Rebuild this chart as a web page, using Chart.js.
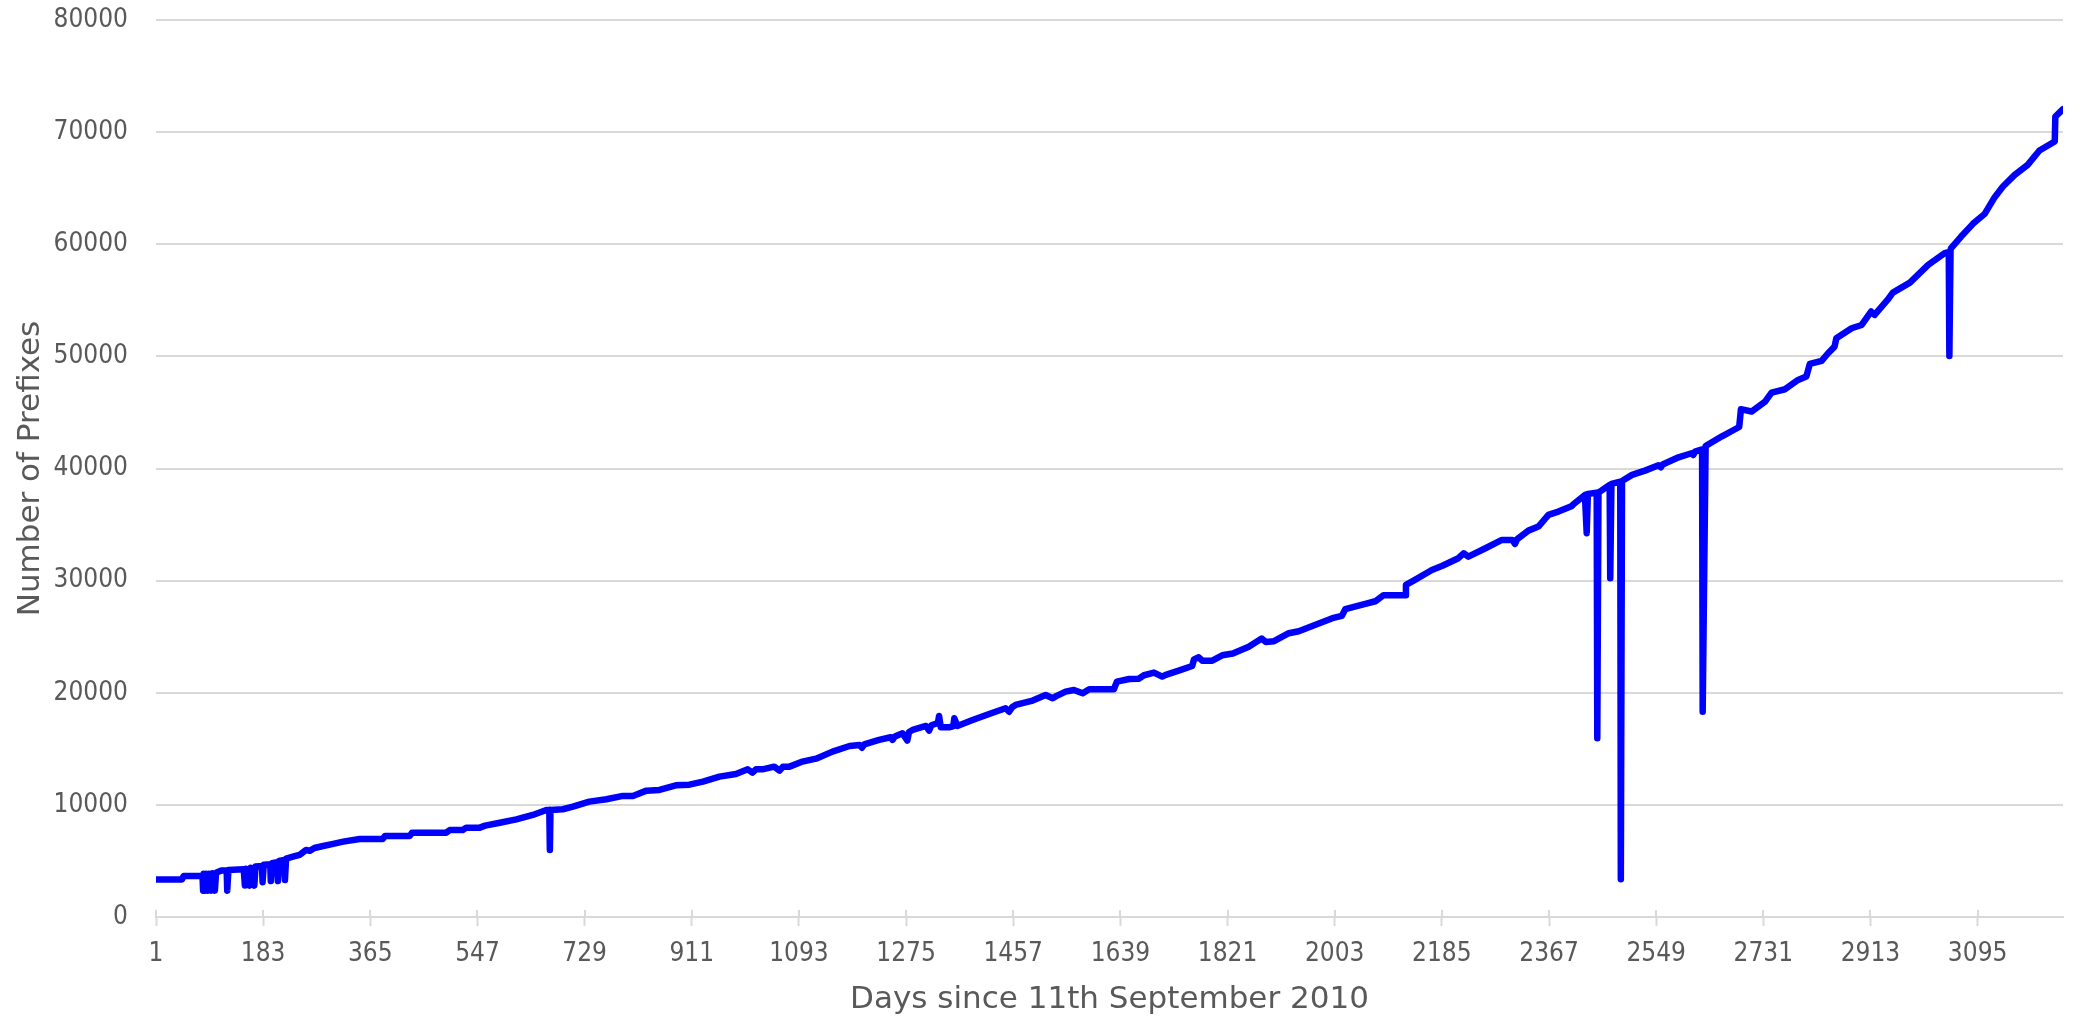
<!DOCTYPE html>
<html>
<head>
<meta charset="utf-8">
<script src="https://cdn.jsdelivr.net/npm/chart.js@4.4.0/dist/chart.umd.min.js"></script>
<style>
  html, body { margin: 0; padding: 0; background: #ffffff; }
  canvas { display: block; }
</style>
</head>
<body>
<canvas id="prefixChart" width="2078" height="1026"></canvas>
<script>
// days since 11th September 2010 (x) and number of prefixes (y)
const days = [
  1, 45, 48, 80, 81, 82, 84, 86, 89, 91, 95, 97, 101, 103, 112, 121, 122, 124,
  150, 152, 154, 160, 162, 168, 170, 181, 182, 184, 195, 196, 198, 207, 208, 210,
  219, 220, 222, 235, 245, 256, 262, 270, 285, 300, 319, 347, 386, 390, 432, 436,
  494, 500, 522, 528, 551, 560, 585, 613, 641, 664, 669, 670, 671, 692, 709, 737,
  766, 794, 811, 834, 856, 884, 907, 930, 958, 986, 1006, 1014, 1020, 1031, 1051,
  1060, 1066, 1077, 1097, 1122, 1150, 1179, 1196, 1200, 1204, 1229, 1249, 1252,
  1256, 1269, 1277, 1280, 1286, 1309, 1314, 1318, 1329, 1331, 1334, 1348, 1355,
  1357, 1362, 1388, 1416, 1444, 1450, 1455, 1461, 1490, 1512, 1524, 1530, 1546,
  1560, 1575, 1586, 1628, 1633, 1654, 1670, 1679, 1696, 1710, 1716, 1738, 1761,
  1764, 1772, 1778, 1795, 1812, 1830, 1857, 1879, 1886, 1900, 1925, 1942, 1965,
  1999, 2015, 2021, 2055, 2072, 2086, 2123, 2124, 2137, 2168, 2185, 2213, 2222,
  2230, 2259, 2287, 2305, 2309, 2313, 2332, 2349, 2366, 2383, 2406, 2409, 2428,
  2431, 2433, 2448, 2449, 2451, 2470, 2471, 2473, 2488, 2489, 2491, 2508, 2530,
  2553, 2557, 2560, 2587, 2609, 2612, 2615, 2627, 2628, 2633, 2660, 2683, 2690,
  2693, 2711, 2734, 2745, 2768, 2790, 2804, 2810, 2830, 2841, 2852, 2855, 2881,
  2898, 2914, 2920, 2943, 2951, 2980, 3011, 3039, 3046, 3047, 3049, 3050, 3067,
  3087, 3107, 3124, 3138, 3158, 3180, 3200, 3226, 3227, 3240
];
const prefixes = [
  3350, 3350, 3650, 3650, 2350, 3850, 2350, 3850, 2350, 3850, 2350, 3900, 2350, 3950, 4150, 4150, 2350, 4200,
  4250, 2800, 4300, 2800, 4400, 2800, 4500, 4550, 3100, 4650, 4700, 3200, 4800, 4900, 3200, 5000,
  5100, 3300, 5200, 5400, 5550, 5980, 5900, 6150, 6330, 6500, 6720, 6960, 6960, 7230, 7230, 7520,
  7520, 7760, 7760, 7970, 7970, 8150, 8410, 8710, 9100, 9540, 9540, 5980, 9540, 9610, 9840, 10290,
  10500, 10800, 10790, 11270, 11330, 11740, 11800, 12070, 12520, 12760, 13170, 12870, 13170, 13170, 13410,
  13050, 13410, 13410, 13830, 14120, 14750, 15250, 15340, 15100, 15400, 15790, 16030, 15800,
  16100, 16390, 15730, 16500, 16680, 17040, 16620, 17100, 17300, 17930, 16920, 16920, 17000,
  17720, 17040, 17570, 18110, 18620, 18310, 18700, 18910, 19300, 19800, 19510, 19700, 20100,
  20250, 19950, 20310, 20310, 20990, 21230, 21250, 21560, 21800, 21440, 21600, 21970, 22390,
  22980, 23170, 22860, 22860, 23340, 23500, 24110, 24830, 24530, 24600, 25310, 25490, 25960,
  26650, 26850, 27450, 27920, 28160, 28700, 28700, 29620, 30000, 30950, 31310, 32000, 32440,
  32140, 32890, 33630, 33630, 33270, 33700, 34460, 34820, 35860, 36160, 36660, 36840, 37640,
  34230, 37730, 37850, 15940, 37850, 38540, 30210, 38630, 38830, 3360, 38890, 39430, 39810,
  40290, 40100, 40350, 41000, 41360, 41200, 41500, 41700, 18310, 42000, 42850, 43500, 43700,
  45290, 45080, 45970, 46770, 47070, 47900, 48200, 49330, 49600, 50280, 50870, 51620, 52510,
  52800, 54000, 53700, 55100, 55690, 56580, 58160, 59200, 59300, 50040, 59500, 59650, 60690,
  61820, 62710, 64200, 65150, 66190, 67080, 68360, 69160, 71390, 72050
];
const xTicks = [1, 183, 365, 547, 729, 911, 1093, 1275, 1457, 1639, 1821, 2003, 2185, 2367, 2549, 2731, 2913, 3095];
const yMax = 80000;
const yStep = 10000;

const points = days.map((d, i) => ({ x: d, y: prefixes[i] }));

const grey = '#595959';
const gridColor = '#d9d9d9';
const tickFont = '"DejaVu Sans Condensed", "DejaVu Sans", sans-serif';
const titleFont = '"DejaVu Sans", sans-serif';

// excel style tick marks cross the axis: draw the part above the axis line
const crossTicks = {
    id: 'crossTicks',
    beforeDatasetsDraw(chart) {
        const xs = chart.scales.x;
        const c = chart.ctx;
        c.save();
        c.strokeStyle = gridColor;
        c.lineWidth = 2;
        c.beginPath();
        xTicks.forEach(v => {
            const px = Math.round(xs.getPixelForValue(v));
            c.moveTo(px, xs.top);
            c.lineTo(px, xs.top - 7);
        });
        c.stroke();
        c.restore();
    }
};

const ctx = document.getElementById('prefixChart').getContext('2d');
const myChart = new Chart(ctx, {
    type: 'line',
    data: {
        datasets: [{
            label: 'Prefixes',
            data: points,
            borderColor: '#0000ff',
            backgroundColor: '#0000ff',
            borderWidth: 6.5,
            pointRadius: 0,
            tension: 0,
            borderCapStyle: 'round',
            borderJoinStyle: 'round',
            fill: false
        }]
    },
    options: {
        responsive: false,
        animation: false,
        devicePixelRatio: 1,
        layout: { padding: { top: 20, right: 15, left: 0, bottom: 0 } },
        plugins: {
            legend: { display: false },
            tooltip: { enabled: false }
        },
        scales: {
            x: {
                type: 'linear',
                min: 1,
                max: 3240,
                afterBuildTicks: scale => { scale.ticks = xTicks.map(v => ({ value: v })); },
                afterFit: scale => { scale.height = 109; },
                grid: {
                    display: true,
                    drawOnChartArea: false,
                    drawTicks: true,
                    tickLength: 9,
                    tickWidth: 2,
                    tickColor: gridColor
                },
                border: { display: true, color: gridColor, width: 2 },
                ticks: {
                    autoSkip: false,
                    maxRotation: 0,
                    padding: 13,
                    color: grey,
                    font: { family: tickFont, size: 26 },
                    callback: v => String(v)
                },
                title: {
                    display: true,
                    text: 'Days since 11th September 2010',
                    color: grey,
                    font: { family: titleFont, size: 31 },
                    padding: { top: 0, bottom: 7 }
                }
            },
            y: {
                min: 0,
                max: yMax,
                afterFit: scale => {
                    scale.width = 156;
                    scale.paddingTop = 0;
                    scale.paddingBottom = 0;
                },
                grid: {
                    color: gridColor,
                    lineWidth: 2,
                    drawTicks: false
                },
                border: { display: false },
                ticks: {
                    stepSize: yStep,
                    padding: 28,
                    color: grey,
                    font: { family: tickFont, size: 26 },
                    callback: v => String(v)
                },
                title: {
                    display: true,
                    text: 'Number of Prefixes',
                    color: grey,
                    font: { family: titleFont, size: 31 },
                    padding: { top: 12, bottom: 0 }
                }
            }
        }
    },
    plugins: [crossTicks]
});
</script>
</body>
</html>
